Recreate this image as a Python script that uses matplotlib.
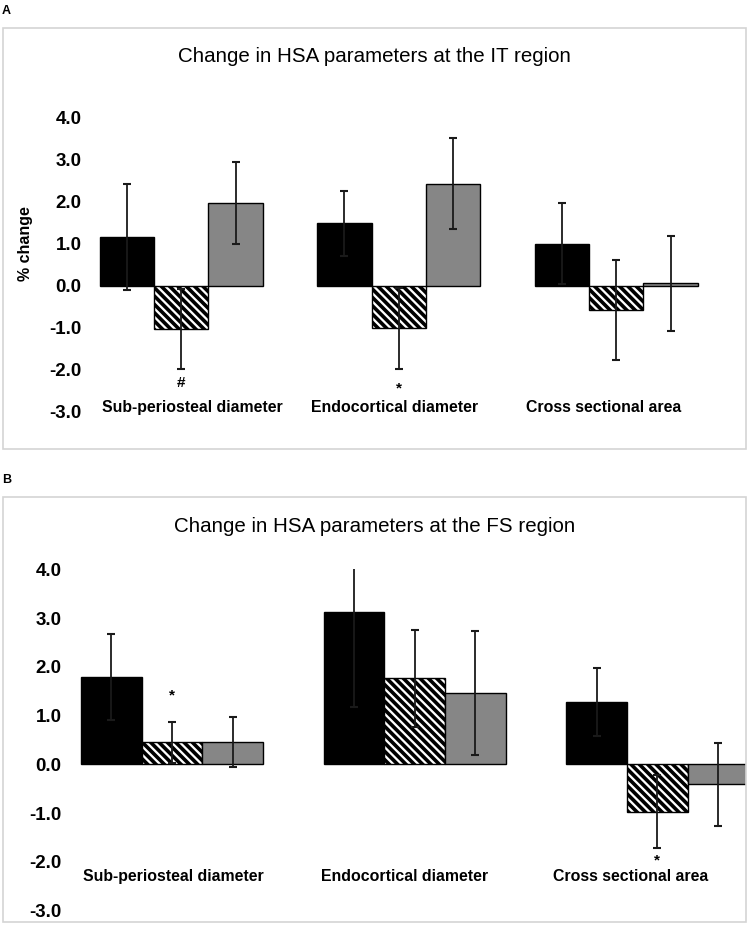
import matplotlib
matplotlib.use("Agg")
import matplotlib.pyplot as plt
import numpy as np
from matplotlib.patches import Rectangle

plt.rcParams["font.family"] = ["Liberation Sans", "DejaVu Sans"]
plt.rcParams["axes.unicode_minus"] = False
plt.rcParams["hatch.linewidth"] = 2.6

W, H = 749, 925

categories = ["Sub-periosteal diameter", "Endocortical diameter", "Cross sectional area"]
yticks = [4.0, 3.0, 2.0, 1.0, 0.0, -1.0, -2.0, -3.0]

# panel A - IT region
it_black = [1.17, 1.49, 1.01]
it_black_err = [1.27, 0.77, 0.96]
it_hatch = [-1.03, -1.01, -0.57]
it_hatch_err = [0.95, 0.96, 1.19]
it_gray = [1.97, 2.44, 0.06]
it_gray_err = [0.98, 1.09, 1.13]

# panel B - FS region
fs_black = [1.79, 3.12, 1.28]
fs_black_err = [0.89, 1.94, 0.70]
fs_hatch = [0.45, 1.76, -0.97]
fs_hatch_err = [0.42, 0.99, 0.75]
fs_gray = [0.46, 1.46, -0.41]
fs_gray_err = [0.51, 1.28, 0.85]

# significance marks: (category, series, symbol, y)
it_marks = [(0, 1, "#", -2.30), (1, 1, "*", -2.45)]
fs_marks = [(0, 1, "*", 1.42), (2, 1, "*", -1.98)]

STYLES = [
    dict(color="black", edgecolor="black"),
    dict(color="white", edgecolor="black", hatch="\\\\\\\\"),
    dict(color="#868686", edgecolor="black"),
]


def add_axes_px(fig, left, right, top, bottom):
    return fig.add_axes([left / W, 1 - bottom / H, (right - left) / W, (bottom - top) / H])


def frame(fig, left, right, top, bottom):
    fig.patches.append(Rectangle((left / W, 1 - bottom / H), (right - left) / W,
                                 (bottom - top) / H, transform=fig.transFigure,
                                 fill=False, edgecolor="#d4d4d4", linewidth=1.2))


def draw_panel(ax, series, errs, marks, xlim, label_y, label_dx):
    x = np.arange(len(categories))
    width = 0.25
    for i, (vals, err) in enumerate(zip(series, errs)):
        ax.bar(x + (i - 1) * width, vals, width, yerr=err, linewidth=1.0,
               capsize=3, error_kw=dict(elinewidth=1.3, capthick=1.5, ecolor="#1a1a1a"),
               **STYLES[i])
    for cat, ser, sym, y in marks:
        ax.text(cat + (ser - 1) * width, y, sym, ha="center", va="center",
                fontsize=11, fontweight="bold")
    for i, name in enumerate(categories):
        ax.text(i + label_dx[i], label_y, name, ha="center", va="center",
                fontsize=11.4, fontweight="bold")
    ax.set_xlim(*xlim)
    ax.set_ylim(-3.0, 4.0)
    ax.set_xticks([])
    ax.set_yticks(yticks)
    ax.set_yticklabels([f"{t:.1f}" for t in yticks], fontsize=13.5, fontweight="bold")
    ax.tick_params(axis="y", length=0, pad=4.5)
    for s in ax.spines.values():
        s.set_visible(False)
    ax.patch.set_alpha(0)


fig = plt.figure(figsize=(W / 100, H / 100), dpi=100)

# panel A
frame(fig, 3, 746, 28, 449)
axA = add_axes_px(fig, 88, 725, 118, 412)
draw_panel(axA, [it_black, it_hatch, it_gray], [it_black_err, it_hatch_err, it_gray_err],
           it_marks, (-0.429, 2.5), -2.9, [0.05, -0.02, -0.06])
axA.set_ylabel("% change", fontsize=11.5, fontweight="bold")
axA.yaxis.set_label_coords((33 - 88) / (725 - 88), (412 - 244) / (412 - 118))
fig.text(374 / W, 1 - 62 / H, "Change in HSA parameters at the IT region",
         ha="center", va="baseline", fontsize=14.8)
fig.text(2 / W, 1 - 5 / H, "A", ha="left", va="top", fontsize=9, fontweight="bold")

# panel B
frame(fig, 3, 746, 497, 922)
axB = add_axes_px(fig, 68, 746, 569.3, 910.5)
draw_panel(axB, [fs_black, fs_hatch, fs_gray], [fs_black_err, fs_hatch_err, fs_gray_err],
           fs_marks, (-0.428, 2.366), -2.31, [0.005, -0.04, -0.11])
fig.text(374.5 / W, 1 - 531.5 / H, "Change in HSA parameters at the FS region",
         ha="center", va="baseline", fontsize=14.8)
fig.text(2 / W, 1 - 474 / H, "B", ha="left", va="top", fontsize=9, fontweight="bold")

fig.savefig("out.png", dpi=100, facecolor="white")
